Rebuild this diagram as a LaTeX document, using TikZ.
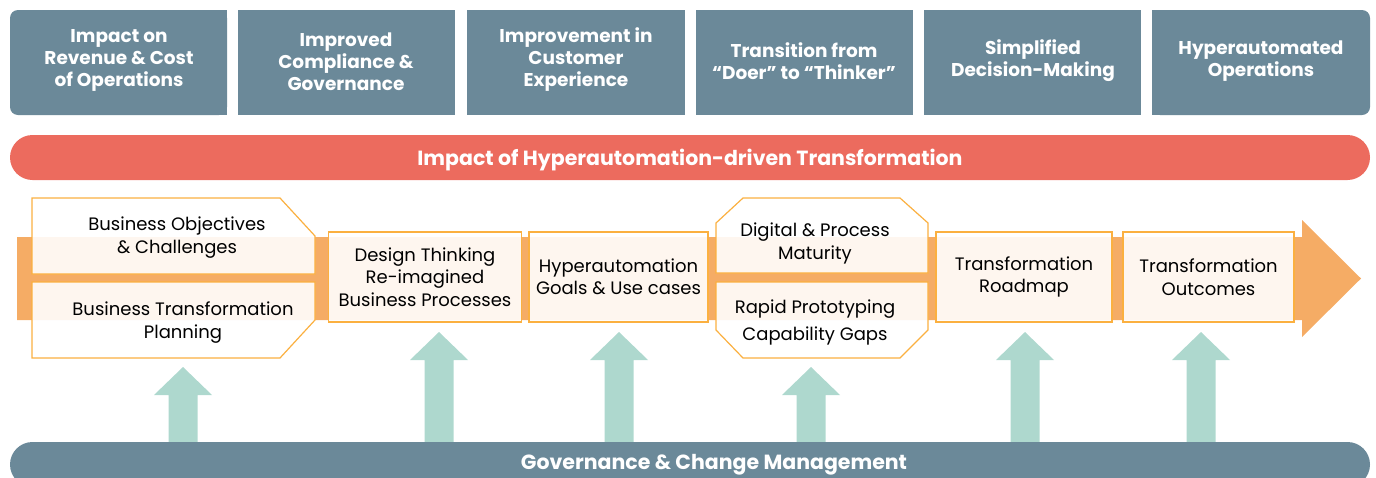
\documentclass[tikz,border=0pt]{standalone}
\usepackage{fontspec}
\setmainfont{Poppins}
\usepackage{tikz}
\usetikzlibrary{positioning}

\definecolor{slate}{RGB}{107,137,153}
\definecolor{barred}{RGB}{236,107,94}
\definecolor{flow}{RGB}{245,172,101}
\definecolor{edge}{RGB}{251,176,64}
\definecolor{mint}{RGB}{174,216,206}

\tikzset{
    headtext/.style={text=white,font=\bfseries\fontsize{18.5}{22}\selectfont,align=center},
    bandtext/.style={text=white,font=\bfseries\fontsize{20.5}{24}\selectfont,align=center},
    bodytext/.style={text=black,font=\fontsize{18}{22.5}\selectfont,align=center},
    stagebox/.style={draw=edge,line width=1.2pt,fill=white,fill opacity=0.9,text opacity=1,
        minimum height=90pt,inner sep=0pt,bodytext},
    chamfer/.style={draw=edge,line width=1.2pt,fill=white,fill opacity=0.9}
}

\begin{document}
\begin{tikzpicture}[x=1pt,y=-1pt]
    \useasboundingbox (0,0) rectangle (1376,477);
    \clip (0,0) rectangle (1376,477);

    % Top row of impact boxes
    \fill [slate,rounded corners=8] (10,10) rectangle (227,115);
    \fill [slate] (120,10) rectangle (227,115);
    \fill [slate] (238,10) rectangle (455,115);
    \fill [slate] (467,10) rectangle (685,115);
    \fill [slate] (696,10) rectangle (913,115);
    \fill [slate] (924,10) rectangle (1141,115);
    \fill [slate,rounded corners=8] (1152,10) rectangle (1370,115);
    \fill [slate] (1152,10) rectangle (1260,115);
    \node [headtext] (revenue) at (119,60) {Impact on\\Revenue \& Cost\\of Operations};
    \node [headtext] (compliance) at (346,62) {Improved\\Compliance \&\\Governance};
    \node [headtext] (experience) at (576,60) {Improvement in\\Customer\\Experience};
    \node [headtext] (thinker) at (804,61) {Transition from\\“Doer” to “Thinker”};
    \node [headtext] (decision) at (1033,61) {Simplified\\Decision-Making};
    \node [headtext] (operations) at (1261,61) {Hyperautomated\\Operations};

    % Red banner
    \fill [barred,rounded corners=22.5] (10,135) rectangle (1370,180);
    \node [bandtext] (impact) at (690,160.5) {Impact of Hyperautomation-driven Transformation};

    % Big orange arrow
    \fill [flow] (17,237) -- (1302,237) -- (1302,220) -- (1361,278.5)
        -- (1302,337) -- (1302,320) -- (17,320) -- cycle;

    % First stage: two chamfered halves
    \draw [chamfer] (32,198) -- (280,198) -- (315,236) -- (315,274) -- (32,274) -- cycle;
    \draw [chamfer] (32,282) -- (315,282) -- (315,320) -- (280,358) -- (32,358) -- cycle;
    \node [bodytext] (objectives) at (177,237.5) {Business Objectives\\\& Challenges};
    \node [bodytext] (planning) at (183,322.5) {Business Transformation\\Planning};

    % Plain stages
    \node [stagebox,minimum width=193pt] (design) at (425,277) {Design Thinking\\Re-imagined\\Business Processes};
    \node [stagebox,minimum width=179pt] (goals) at (618.5,277) {Hyperautomation\\Goals \& Use cases};

    % Octagon stage
    \draw [chamfer] (716,223) -- (743,198) -- (900,198) -- (928,223) -- (928,273) -- (716,273) -- cycle;
    \draw [chamfer] (716,282) -- (928,282) -- (928,330) -- (900,358) -- (743,358) -- (716,330) -- cycle;
    \node [bodytext] (maturity) at (815,243.5) {Digital \& Process\\Maturity};
    \node [bodytext,font=\fontsize{18}{27}\selectfont] (prototyping) at (815,322.5) {Rapid Prototyping\\Capability Gaps};

    \node [stagebox,minimum width=176pt] (roadmap) at (1024,277) {Transformation\\Roadmap};
    \node [stagebox,minimum width=171pt] (outcomes) at (1208.5,277) {Transformation\\Outcomes};

    % Support arrows
    \foreach \x/\tip in {183/367,439/332,619/332,811/367,1025/332,1201/332}
        \fill [mint] ({\x-14.5},442) -- ({\x-14.5},\tip+28) -- ({\x-29},\tip+28) -- (\x,\tip)
            -- ({\x+29},\tip+28) -- ({\x+14.5},\tip+28) -- ({\x+14.5},442) -- cycle;

    % Bottom banner
    \fill [slate,rounded corners=22.5] (10,442) rectangle (1370,487);
    \node [bandtext] (governance) at (714,465) {Governance \& Change Management};
\end{tikzpicture}
\end{document}
